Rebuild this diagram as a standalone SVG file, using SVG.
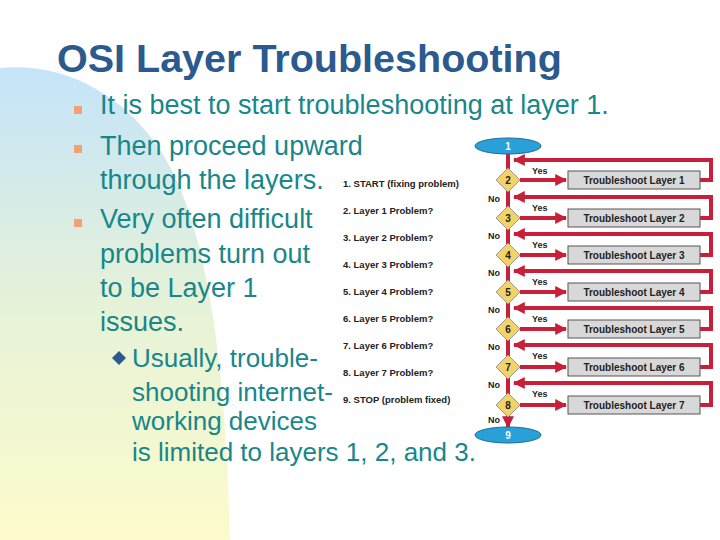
<svg xmlns="http://www.w3.org/2000/svg" width="720" height="540" viewBox="0 0 720 540">
<defs>
<linearGradient id="bg" x1="0" y1="0" x2="0" y2="1"><stop offset="0" stop-color="#c4e4fa"/><stop offset="0.5" stop-color="#e6f2d8"/><stop offset="1" stop-color="#fdfbcc"/></linearGradient>
<marker id="ah" viewBox="0 0 10 10" refX="9" refY="5" markerWidth="3" markerHeight="3" orient="auto"><path d="M0,0 L10,5 L0,10 z" fill="#c8203a"/></marker>
<style>
.t{font-family:"Liberation Sans",Arial,sans-serif;fill:#17878a;font-size:27px}
.s{font-size:26px}
.li{font-family:"Liberation Sans",Arial,sans-serif;font-size:9.5px;fill:#222;font-weight:bold}
.c{fill:none;stroke:#c8203a;stroke-width:4}
.box{fill:#d8d8d8;stroke:#555;stroke-width:1}
.bt{font-family:"Liberation Sans",Arial,sans-serif;font-size:10px;font-weight:bold;fill:#222;text-anchor:middle}
.lb{font-family:"Liberation Sans",Arial,sans-serif;font-size:9px;font-weight:bold;fill:#222}
.d{fill:#f2d36a;stroke:#999;stroke-width:1}
.dn{font-family:"Liberation Sans",Arial,sans-serif;font-size:10px;font-weight:bold;fill:#222;text-anchor:middle}
.e{fill:#2aa0d8;stroke:#1a6e9a;stroke-width:1}
</style>
</defs>
<rect width="720" height="540" fill="#fff"/>
<path d="M0,540 L0,68 C60,62 120,90 160,150 C200,210 225,330 230,540 Z" fill="url(#bg)"/>
<text x="57" y="72" font-family="Liberation Sans,Arial,sans-serif" font-size="39.5" font-weight="bold" fill="#2b5a8e">OSI Layer Troubleshooting</text>
<g fill="#f4a070"><rect x="74" y="106" width="8" height="8"/><rect x="74" y="145" width="8" height="8"/><rect x="74" y="219" width="8" height="8"/></g>
<path d="M112,358 l7,-7 l7,7 l-7,7 z" fill="#2b5a8e"/>
<g class="t">
<text x="100" y="114">It is best to start troubleshooting at layer 1.</text>
<text x="100" y="155">Then proceed upward</text>
<text x="100" y="189">through the layers.</text>
<text x="100" y="228">Very often difficult</text>
<text x="100" y="263">problems turn out</text>
<text x="100" y="297">to be Layer 1</text>
<text x="100" y="331">issues.</text>
<text class="s" x="132" y="367">Usually, trouble-</text>
<text class="s" x="132" y="401">shooting internet-</text>
<text class="s" x="132" y="430">working devices</text>
<text class="s" x="132" y="461">is limited to layers 1, 2, and 3.</text>
</g>
<g id="list" class="li">
<text x="343" y="187">1.  START (fixing problem)</text>
<text x="343" y="214">2.  Layer 1 Problem?</text>
<text x="343" y="241">3.  Layer 2 Problem?</text>
<text x="343" y="268">4.  Layer 3 Problem?</text>
<text x="343" y="295">5.  Layer 4 Problem?</text>
<text x="343" y="322">6.  Layer 5 Problem?</text>
<text x="343" y="349">7.  Layer 6 Problem?</text>
<text x="343" y="376">8.  Layer 7 Problem?</text>
<text x="343" y="403">9.  STOP (problem fixed)</text>
</g>
<g id="connectors">
<path class="c" d="M508,154 V427" marker-end="url(#ah)"/>
<path class="c" d="M520,180 H566" marker-end="url(#ah)"/>
<path class="c" d="M520,218 H566" marker-end="url(#ah)"/>
<path class="c" d="M520,255 H566" marker-end="url(#ah)"/>
<path class="c" d="M520,292 H566" marker-end="url(#ah)"/>
<path class="c" d="M520,329 H566" marker-end="url(#ah)"/>
<path class="c" d="M520,367 H566" marker-end="url(#ah)"/>
<path class="c" d="M520,405 H566" marker-end="url(#ah)"/>
<path class="c" d="M700,180 H711 V160 H514" marker-end="url(#ah)"/>
<path class="c" d="M700,218 H711 V197 H514" marker-end="url(#ah)"/>
<path class="c" d="M700,255 H711 V234 H514" marker-end="url(#ah)"/>
<path class="c" d="M700,292 H711 V271 H514" marker-end="url(#ah)"/>
<path class="c" d="M700,329 H711 V308 H514" marker-end="url(#ah)"/>
<path class="c" d="M700,367 H711 V345 H514" marker-end="url(#ah)"/>
<path class="c" d="M700,405 H711 V383 H514" marker-end="url(#ah)"/>
<g class="lb">
<text x="532" y="174">Yes</text><text x="532" y="211">Yes</text><text x="532" y="248">Yes</text><text x="532" y="285">Yes</text><text x="532" y="322">Yes</text><text x="532" y="359">Yes</text><text x="532" y="397">Yes</text>
<text x="488" y="202">No</text><text x="488" y="239">No</text><text x="488" y="276">No</text><text x="488" y="313">No</text><text x="488" y="350">No</text><text x="488" y="388">No</text><text x="488" y="423">No</text>
</g>
</g>
<g id="n1"><ellipse class="e" cx="508" cy="146" rx="33" ry="8"/><text class="dn" x="508" y="150" style="fill:#fff">1</text></g>
<g id="n2"><path class="d" d="M508,168 l12,12 l-12,12 l-12,-12 z"/><text class="dn" x="508" y="184">2</text></g>
<g id="n3"><path class="d" d="M508,206 l12,12 l-12,12 l-12,-12 z"/><text class="dn" x="508" y="222">3</text></g>
<g id="n4"><path class="d" d="M508,243 l12,12 l-12,12 l-12,-12 z"/><text class="dn" x="508" y="259">4</text></g>
<g id="n5"><path class="d" d="M508,280 l12,12 l-12,12 l-12,-12 z"/><text class="dn" x="508" y="296">5</text></g>
<g id="n6"><path class="d" d="M508,317 l12,12 l-12,12 l-12,-12 z"/><text class="dn" x="508" y="333">6</text></g>
<g id="n7"><path class="d" d="M508,355 l12,12 l-12,12 l-12,-12 z"/><text class="dn" x="508" y="371">7</text></g>
<g id="n8"><path class="d" d="M508,393 l12,12 l-12,12 l-12,-12 z"/><text class="dn" x="508" y="409">8</text></g>
<g id="n9"><ellipse class="e" cx="508" cy="435" rx="33" ry="8"/><text class="dn" x="508" y="439" style="fill:#fff">9</text></g>
<g id="b1"><rect class="box" x="568" y="171" width="132" height="18"/><text class="bt" x="634" y="184">Troubleshoot Layer 1</text></g>
<g id="b2"><rect class="box" x="568" y="209" width="132" height="18"/><text class="bt" x="634" y="222">Troubleshoot Layer 2</text></g>
<g id="b3"><rect class="box" x="568" y="246" width="132" height="18"/><text class="bt" x="634" y="259">Troubleshoot Layer 3</text></g>
<g id="b4"><rect class="box" x="568" y="283" width="132" height="18"/><text class="bt" x="634" y="296">Troubleshoot Layer 4</text></g>
<g id="b5"><rect class="box" x="568" y="320" width="132" height="18"/><text class="bt" x="634" y="333">Troubleshoot Layer 5</text></g>
<g id="b6"><rect class="box" x="568" y="358" width="132" height="18"/><text class="bt" x="634" y="371">Troubleshoot Layer 6</text></g>
<g id="b7"><rect class="box" x="568" y="396" width="132" height="18"/><text class="bt" x="634" y="409">Troubleshoot Layer 7</text></g>
</svg>
